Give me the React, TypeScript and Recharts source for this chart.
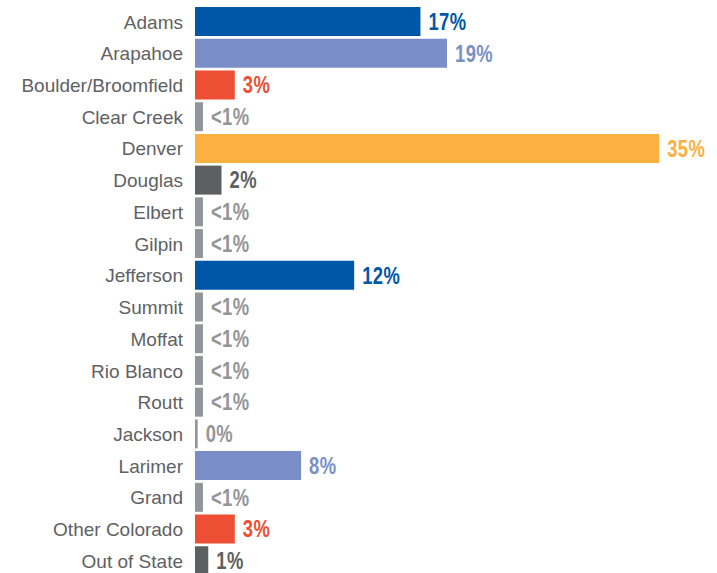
import { BarChart, Bar, XAxis, YAxis, Cell, LabelList } from 'recharts';

const counties = [
  'Adams', 'Arapahoe', 'Boulder/Broomfield', 'Clear Creek', 'Denver', 'Douglas',
  'Elbert', 'Gilpin', 'Jefferson', 'Summit', 'Moffat', 'Rio Blanco', 'Routt',
  'Jackson', 'Larimer', 'Grand', 'Other Colorado', 'Out of State',
];
const shares = [17, 19, 3, 0.6, 35, 2, 0.6, 0.6, 12, 0.6, 0.6, 0.6, 0.6, 0.2, 8, 0.6, 3, 1];
const shareLabels = [
  '17%', '19%', '3%', '<1%', '35%', '2%', '<1%', '<1%', '12%', '<1%', '<1%', '<1%', '<1%',
  '0%', '8%', '<1%', '3%', '1%',
];
const colors = [
  '#0057A8', '#7A8FC7', '#EE4E33', '#939598', '#FBB040', '#5E5F61', '#939598', '#939598',
  '#0057A8', '#939598', '#939598', '#939598', '#939598', '#939598', '#7A8FC7', '#939598',
  '#EE4E33', '#5E5F61',
];

const data = counties.map((name, i) => ({ name, share: shares[i] }));

// condensed bold look: squeeze a regular bold face horizontally
const ValueLabel = (props: any) => {
  const { x, y, width, height, index } = props;
  const tx = x + width + 8;
  const ty = y + height / 2;
  return (
    <text
      transform={`translate(${tx},${ty}) scale(0.8,1)`}
      x={0}
      y={0}
      dominantBaseline="central"
      fill={colors[index]}
      fontFamily="'Liberation Sans', Arial, sans-serif"
      fontWeight="bold"
      fontSize={23}
      letterSpacing={0.5}
    >
      {shareLabels[index]}
    </text>
  );
};

export default function App() {
  return (
    <div style={{ position: 'absolute', top: 0, left: 0, background: '#fff' }}>
      <BarChart
        width={717}
        height={577}
        data={data}
        layout="vertical"
        margin={{ top: 6, right: 18, left: 0, bottom: 0 }}
      >
        <XAxis type="number" domain={[0, 38]} hide />
        <YAxis
          type="category"
          dataKey="name"
          width={195}
          axisLine={false}
          tickLine={false}
          tickSize={0}
          tickMargin={12}
          interval={0}
          tick={{ fill: '#606163', fontSize: 19, fontFamily: "'Liberation Sans', Arial, sans-serif" }}
        />
        <Bar dataKey="share" barSize={29} isAnimationActive={false}>
          {data.map((d, i) => (
            <Cell key={d.name} fill={colors[i]} />
          ))}
          <LabelList dataKey="share" content={ValueLabel} />
        </Bar>
      </BarChart>
    </div>
  );
}
